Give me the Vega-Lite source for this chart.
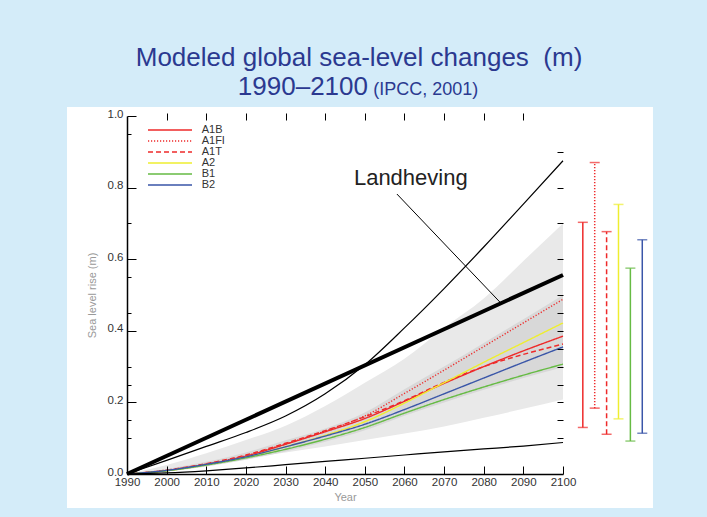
{
  "$schema": "https://vega.github.io/schema/vega-lite/v6.json",
  "width": 436,
  "height": 358,
  "autosize": {"type": "none"},
  "padding": {"left": 127, "top": 116, "right": 144, "bottom": 43},
  "background": "#d4ecf9",
  "title": {
    "text": "Modeled global sea-level changes\u00a0\u00a0(m)",
    "font": "Liberation Sans",
    "fontSize": 26,
    "fontWeight": "normal",
    "color": "#2b3990",
    "anchor": "middle",
    "frame": "group",
    "dx": 14,
    "offset": 3
  },
  "config": {
    "view": {"stroke": null},
    "axis": {"zindex": 1, "grid": false, "labelFont": "Liberation Sans", "titleFont": "Liberation Sans"}
  },
  "datasets": {
    "scen": [
      {"year": 1990, "scenario": "A1B", "rise": 0}, {"year": 2000, "scenario": "A1B", "rise": 0.010}, {"year": 2010, "scenario": "A1B", "rise": 0.027}, {"year": 2020, "scenario": "A1B", "rise": 0.050}, {"year": 2030, "scenario": "A1B", "rise": 0.083}, {"year": 2040, "scenario": "A1B", "rise": 0.118}, {"year": 2050, "scenario": "A1B", "rise": 0.155}, {"year": 2060, "scenario": "A1B", "rise": 0.203}, {"year": 2070, "scenario": "A1B", "rise": 0.253}, {"year": 2080, "scenario": "A1B", "rise": 0.300}, {"year": 2090, "scenario": "A1B", "rise": 0.344}, {"year": 2100, "scenario": "A1B", "rise": 0.385},
      {"year": 1990, "scenario": "A1FI", "rise": 0}, {"year": 2000, "scenario": "A1FI", "rise": 0.010}, {"year": 2010, "scenario": "A1FI", "rise": 0.028}, {"year": 2020, "scenario": "A1FI", "rise": 0.051}, {"year": 2030, "scenario": "A1FI", "rise": 0.084}, {"year": 2040, "scenario": "A1FI", "rise": 0.120}, {"year": 2050, "scenario": "A1FI", "rise": 0.162}, {"year": 2060, "scenario": "A1FI", "rise": 0.225}, {"year": 2070, "scenario": "A1FI", "rise": 0.290}, {"year": 2080, "scenario": "A1FI", "rise": 0.356}, {"year": 2090, "scenario": "A1FI", "rise": 0.422}, {"year": 2100, "scenario": "A1FI", "rise": 0.488},
      {"year": 1990, "scenario": "A1T", "rise": 0}, {"year": 2000, "scenario": "A1T", "rise": 0.011}, {"year": 2010, "scenario": "A1T", "rise": 0.029}, {"year": 2020, "scenario": "A1T", "rise": 0.053}, {"year": 2030, "scenario": "A1T", "rise": 0.086}, {"year": 2040, "scenario": "A1T", "rise": 0.121}, {"year": 2050, "scenario": "A1T", "rise": 0.160}, {"year": 2060, "scenario": "A1T", "rise": 0.205}, {"year": 2070, "scenario": "A1T", "rise": 0.256}, {"year": 2080, "scenario": "A1T", "rise": 0.300}, {"year": 2090, "scenario": "A1T", "rise": 0.334}, {"year": 2100, "scenario": "A1T", "rise": 0.363},
      {"year": 1990, "scenario": "A2", "rise": 0}, {"year": 2000, "scenario": "A2", "rise": 0.009}, {"year": 2010, "scenario": "A2", "rise": 0.026}, {"year": 2020, "scenario": "A2", "rise": 0.047}, {"year": 2030, "scenario": "A2", "rise": 0.076}, {"year": 2040, "scenario": "A2", "rise": 0.108}, {"year": 2050, "scenario": "A2", "rise": 0.146}, {"year": 2060, "scenario": "A2", "rise": 0.198}, {"year": 2070, "scenario": "A2", "rise": 0.255}, {"year": 2080, "scenario": "A2", "rise": 0.312}, {"year": 2090, "scenario": "A2", "rise": 0.367}, {"year": 2100, "scenario": "A2", "rise": 0.422},
      {"year": 1990, "scenario": "B1", "rise": 0}, {"year": 2000, "scenario": "B1", "rise": 0.009}, {"year": 2010, "scenario": "B1", "rise": 0.025}, {"year": 2020, "scenario": "B1", "rise": 0.045}, {"year": 2030, "scenario": "B1", "rise": 0.069}, {"year": 2040, "scenario": "B1", "rise": 0.097}, {"year": 2050, "scenario": "B1", "rise": 0.130}, {"year": 2060, "scenario": "B1", "rise": 0.170}, {"year": 2070, "scenario": "B1", "rise": 0.208}, {"year": 2080, "scenario": "B1", "rise": 0.243}, {"year": 2090, "scenario": "B1", "rise": 0.276}, {"year": 2100, "scenario": "B1", "rise": 0.307},
      {"year": 1990, "scenario": "B2", "rise": 0}, {"year": 2000, "scenario": "B2", "rise": 0.010}, {"year": 2010, "scenario": "B2", "rise": 0.027}, {"year": 2020, "scenario": "B2", "rise": 0.048}, {"year": 2030, "scenario": "B2", "rise": 0.076}, {"year": 2040, "scenario": "B2", "rise": 0.106}, {"year": 2050, "scenario": "B2", "rise": 0.139}, {"year": 2060, "scenario": "B2", "rise": 0.180}, {"year": 2070, "scenario": "B2", "rise": 0.224}, {"year": 2080, "scenario": "B2", "rise": 0.268}, {"year": 2090, "scenario": "B2", "rise": 0.312}, {"year": 2100, "scenario": "B2", "rise": 0.355}
    ],
    "band": [
      {"year": 1990, "outer_low": 0, "outer_high": 0, "inner_low": 0, "inner_high": 0},
      {"year": 2000, "outer_low": 0.012, "outer_high": 0.025, "inner_low": 0.007, "inner_high": 0.014},
      {"year": 2010, "outer_low": 0.028, "outer_high": 0.058, "inner_low": 0.021, "inner_high": 0.034},
      {"year": 2020, "outer_low": 0.045, "outer_high": 0.095, "inner_low": 0.040, "inner_high": 0.060},
      {"year": 2030, "outer_low": 0.060, "outer_high": 0.135, "inner_low": 0.063, "inner_high": 0.094},
      {"year": 2040, "outer_low": 0.077, "outer_high": 0.190, "inner_low": 0.090, "inner_high": 0.127},
      {"year": 2050, "outer_low": 0.095, "outer_high": 0.255, "inner_low": 0.122, "inner_high": 0.172},
      {"year": 2060, "outer_low": 0.113, "outer_high": 0.322, "inner_low": 0.163, "inner_high": 0.237},
      {"year": 2070, "outer_low": 0.133, "outer_high": 0.408, "inner_low": 0.200, "inner_high": 0.300},
      {"year": 2080, "outer_low": 0.157, "outer_high": 0.490, "inner_low": 0.235, "inner_high": 0.366},
      {"year": 2090, "outer_low": 0.182, "outer_high": 0.595, "inner_low": 0.268, "inner_high": 0.432},
      {"year": 2100, "outer_low": 0.208, "outer_high": 0.700, "inner_low": 0.298, "inner_high": 0.500}
    ],
    "black": [
      {"year": 1990, "series": "thick", "rise": 0}, {"year": 2100, "series": "thick", "rise": 0.556},
      {"year": 1990, "series": "upper", "rise": 0}, {"year": 2000, "series": "upper", "rise": 0.038}, {"year": 2010, "series": "upper", "rise": 0.077}, {"year": 2020, "series": "upper", "rise": 0.116}, {"year": 2030, "series": "upper", "rise": 0.162}, {"year": 2040, "series": "upper", "rise": 0.224}, {"year": 2050, "series": "upper", "rise": 0.305}, {"year": 2060, "series": "upper", "rise": 0.408}, {"year": 2070, "series": "upper", "rise": 0.518}, {"year": 2080, "series": "upper", "rise": 0.634}, {"year": 2090, "series": "upper", "rise": 0.754}, {"year": 2100, "series": "upper", "rise": 0.875},
      {"year": 1990, "series": "lower", "rise": 0}, {"year": 2000, "series": "lower", "rise": 0.003}, {"year": 2010, "series": "lower", "rise": 0.009}, {"year": 2020, "series": "lower", "rise": 0.017}, {"year": 2030, "series": "lower", "rise": 0.026}, {"year": 2040, "series": "lower", "rise": 0.035}, {"year": 2050, "series": "lower", "rise": 0.044}, {"year": 2060, "series": "lower", "rise": 0.053}, {"year": 2070, "series": "lower", "rise": 0.062}, {"year": 2080, "series": "lower", "rise": 0.070}, {"year": 2090, "series": "lower", "rise": 0.078}, {"year": 2100, "series": "lower", "rise": 0.088}
    ],
    "ranges": [
      {"scenario": "A1B", "year": 2105, "low": 0.130, "high": 0.703},
      {"scenario": "A1FI", "year": 2108, "low": 0.184, "high": 0.870},
      {"scenario": "A1T", "year": 2111, "low": 0.111, "high": 0.677},
      {"scenario": "A2", "year": 2114, "low": 0.154, "high": 0.753},
      {"scenario": "B1", "year": 2117, "low": 0.092, "high": 0.575},
      {"scenario": "B2", "year": 2120, "low": 0.114, "high": 0.654}
    ],
    "one": [{}]
  },
  "resolve": {"axis": {"x": "independent", "y": "independent"}},
  "layer": [
    {
      "data": {"name": "one"},
      "mark": {"type": "rect", "fill": "white"},
      "encoding": {
        "x": {"datum": 1974.86, "type": "quantitative", "scale": {"domain": [1990, 2100], "nice": false, "zero": false}, "axis": null},
        "x2": {"datum": 2122.7},
        "y": {"datum": -0.095, "type": "quantitative", "scale": {"domain": [0, 1], "nice": false, "zero": false}, "axis": null},
        "y2": {"datum": 1.0251}
      }
    },
    {
      "data": {"name": "band"},
      "mark": {"type": "area", "fill": "#e9e9e9", "interpolate": "monotone"},
      "encoding": {
        "x": {"field": "year", "type": "quantitative", "axis": null},
        "y": {"field": "outer_low", "type": "quantitative", "axis": null},
        "y2": {"field": "outer_high"}
      }
    },
    {
      "data": {"name": "band"},
      "mark": {"type": "area", "fill": "#d8d8d8", "interpolate": "monotone"},
      "encoding": {
        "x": {"field": "year", "type": "quantitative", "axis": null},
        "y": {"field": "inner_low", "type": "quantitative", "axis": null},
        "y2": {"field": "inner_high"}
      }
    },
    {
      "data": {"name": "scen"},
      "mark": {"type": "line", "strokeWidth": 1.4, "interpolate": "monotone"},
      "encoding": {
        "x": {
          "field": "year", "type": "quantitative",
          "scale": {"domain": [1990, 2100], "nice": false, "zero": false},
          "axis": {
            "orient": "bottom", "zindex": 2, "values": [1990, 2000, 2010, 2020, 2030, 2040, 2050, 2060, 2070, 2080, 2090, 2100],
            "format": "d", "title": "Year", "tickSize": -8, "labelPadding": 10, "labelFlush": false, "labelOverlap": false,
            "domainColor": "black", "domainWidth": 1.5, "tickColor": "black", "tickWidth": 1,
            "labelFontSize": 11.5, "labelColor": "#333333", "titleFontSize": 11, "titleColor": "#999999",
            "titleFontWeight": "normal", "titlePadding": 4
          }
        },
        "y": {
          "field": "rise", "type": "quantitative",
          "scale": {"domain": [0, 1], "nice": false, "zero": false},
          "axis": {
            "orient": "left", "zindex": 2, "values": [0, 0.2, 0.4, 0.6, 0.8, 1.0], "format": ".1f",
            "title": "Sea level rise (m)", "tickSize": -9, "labelPadding": 13, "labelOffset": -2, "labelFlush": false, "labelOverlap": false,
            "domainColor": "black", "domainWidth": 1.5, "tickColor": "black", "tickWidth": 1,
            "labelFontSize": 11.5, "labelColor": "#333333", "titleFontSize": 11, "titleColor": "#999999",
            "titleFontWeight": "normal", "titlePadding": 10
          }
        },
        "color": {
          "field": "scenario", "type": "nominal",
          "scale": {"domain": ["A1B", "A1FI", "A1T", "A2", "B1", "B2"], "range": ["#ee2a2a", "#ee2a2a", "#ee2a2a", "#eeee30", "#66bb44", "#3a56a8"]},
          "legend": {
            "orient": "none", "legendX": 37, "legendY": 8, "title": null, "padding": 0,
            "symbolType": "M-4.4,0H4.4", "symbolSize": 100, "symbolStrokeWidth": 1.3,
            "labelOffset": 25.7, "labelFontSize": 11, "labelFont": "Liberation Sans", "labelColor": "#333333", "rowPadding": 0
          }
        },
        "strokeDash": {
          "field": "scenario", "type": "nominal",
          "scale": {"domain": ["A1B", "A1FI", "A1T", "A2", "B1", "B2"], "range": [[1, 0], [1.2, 1.8], [5, 3], [1, 0], [1, 0], [1, 0]]},
          "legend": {
            "orient": "none", "legendX": 37, "legendY": 8, "title": null, "padding": 0,
            "symbolType": "M-4.4,0H4.4", "symbolSize": 100, "symbolStrokeWidth": 1.3,
            "labelOffset": 25.7, "labelFontSize": 11, "labelFont": "Liberation Sans", "labelColor": "#333333", "rowPadding": 0
          }
        }
      }
    },
    {
      "data": {"name": "black"},
      "transform": [{"filter": "datum.series === 'thick'"}],
      "mark": {"type": "line", "color": "black", "strokeWidth": 4},
      "encoding": {
        "x": {"field": "year", "type": "quantitative", "axis": {"orient": "top", "zindex": 2, "values": [2000, 2010, 2020, 2030, 2040, 2050, 2060, 2070, 2080, 2090], "labels": false, "domain": false, "tickSize": -7, "offset": 3, "title": null, "tickColor": "black"}},
        "y": {"field": "rise", "type": "quantitative", "axis": {"orient": "right", "zindex": 2, "values": [0.1, 0.15, 0.2, 0.25, 0.3, 0.35, 0.4, 0.45, 0.5, 0.6, 0.7, 0.8, 0.9], "labels": false, "domain": false, "tickSize": -6, "title": null, "tickColor": "black"}}
      }
    },
    {
      "data": {"name": "black"},
      "transform": [{"filter": "datum.series !== 'thick'"}],
      "mark": {"type": "line", "color": "black", "strokeWidth": 1.2, "interpolate": "monotone"},
      "encoding": {
        "x": {"field": "year", "type": "quantitative", "axis": null},
        "y": {"field": "rise", "type": "quantitative", "axis": {"orient": "left", "zindex": 2, "values": [0.1, 0.15, 0.25, 0.3, 0.45, 0.55, 0.7, 0.95], "labels": false, "domain": false, "tickSize": -4, "title": null, "tickColor": "black"}},
        "detail": {"field": "series", "type": "nominal"}
      }
    },
    {
      "data": {"name": "one"},
      "mark": {"type": "rule", "color": "black", "strokeWidth": 1},
      "encoding": {
        "x": {"datum": 2058.1, "type": "quantitative", "axis": null},
        "y": {"datum": 0.782, "type": "quantitative", "axis": null},
        "x2": {"datum": 2084.1},
        "y2": {"datum": 0.48}
      }
    },
    {
      "data": {"name": "one"},
      "mark": {"type": "text", "text": "Landheving", "font": "Liberation Sans", "fontSize": 22, "color": "#222222", "align": "center", "baseline": "alphabetic"},
      "encoding": {
        "x": {"datum": 2061.6, "type": "quantitative", "axis": null},
        "y": {"datum": 0.807, "type": "quantitative", "axis": null}
      }
    },
    {
      "data": {"name": "one"},
      "mark": {"type": "text", "text": "1990–2100", "font": "Liberation Sans", "fontSize": 26, "color": "#2b3990", "align": "right", "baseline": "alphabetic"},
      "encoding": {
        "x": {"datum": 2050.8, "type": "quantitative", "axis": null},
        "y": {"datum": 1.0587, "type": "quantitative", "axis": null}
      }
    },
    {
      "data": {"name": "one"},
      "mark": {"type": "text", "text": "(IPCC, 2001)", "font": "Liberation Sans", "fontSize": 18, "color": "#2b3990", "align": "left", "baseline": "alphabetic"},
      "encoding": {
        "x": {"datum": 2052.1, "type": "quantitative", "axis": null},
        "y": {"datum": 1.0587, "type": "quantitative", "axis": null}
      }
    },
    {
      "data": {"name": "ranges"},
      "mark": {"type": "rule", "strokeWidth": 1.5},
      "encoding": {
        "x": {"field": "year", "type": "quantitative", "axis": null},
        "y": {"field": "low", "type": "quantitative", "axis": null},
        "y2": {"field": "high"},
        "color": {"field": "scenario", "type": "nominal", "legend": null},
        "strokeDash": {"field": "scenario", "type": "nominal", "legend": null}
      }
    },
    {
      "data": {"name": "ranges"},
      "mark": {"type": "tick", "orient": "horizontal", "size": 10, "thickness": 1.5},
      "encoding": {
        "x": {"field": "year", "type": "quantitative", "axis": null},
        "y": {"field": "low", "type": "quantitative", "axis": null},
        "color": {"field": "scenario", "type": "nominal", "legend": null}
      }
    },
    {
      "data": {"name": "ranges"},
      "mark": {"type": "tick", "orient": "horizontal", "size": 10, "thickness": 1.5},
      "encoding": {
        "x": {"field": "year", "type": "quantitative", "axis": null},
        "y": {"field": "high", "type": "quantitative", "axis": null},
        "color": {"field": "scenario", "type": "nominal", "legend": null}
      }
    }
  ]
}
